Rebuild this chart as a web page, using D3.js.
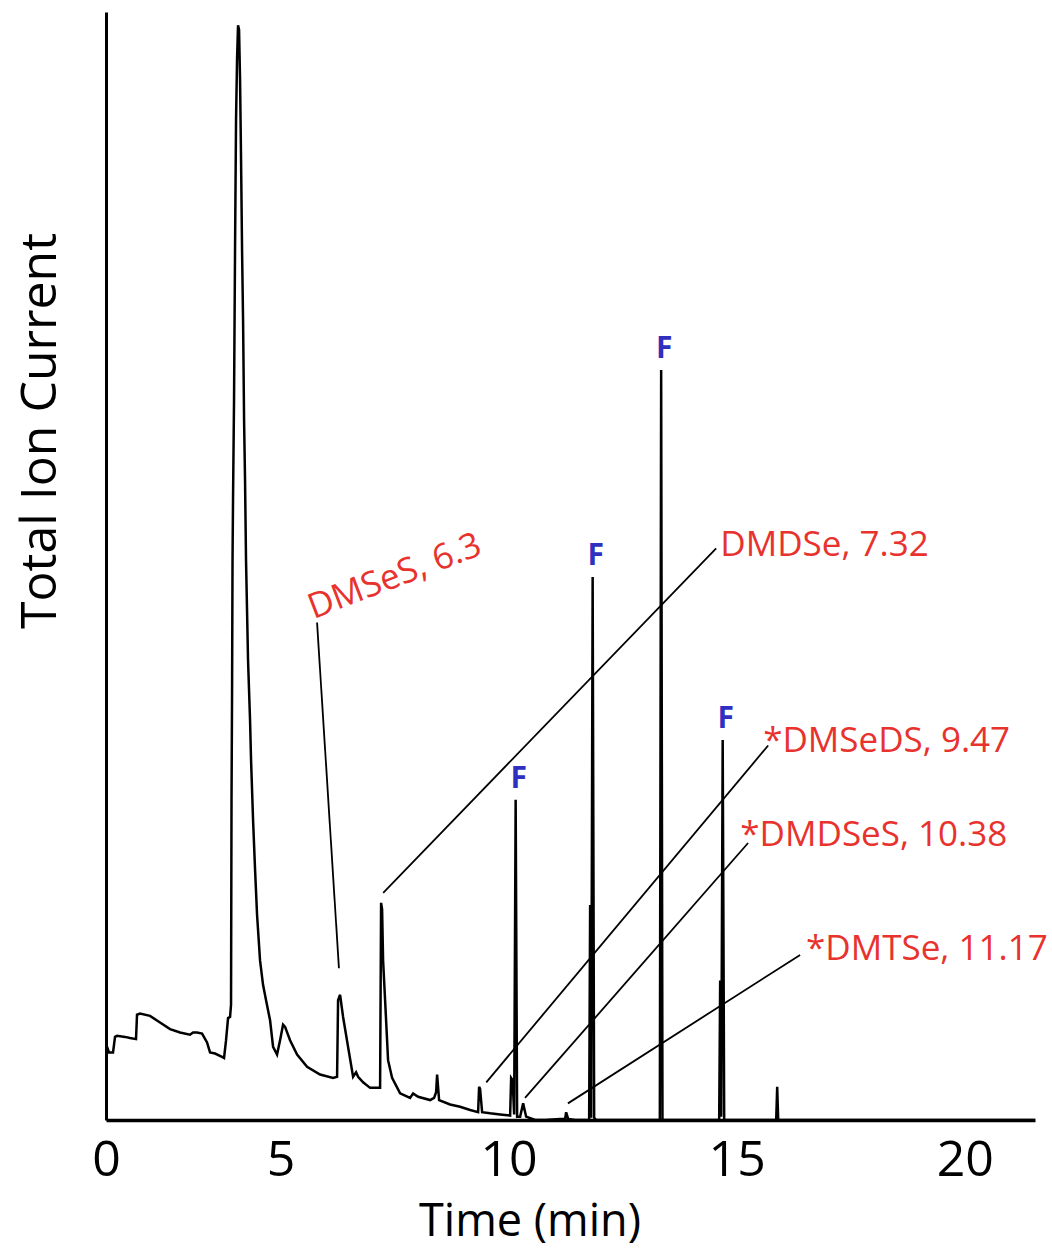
<!DOCTYPE html>
<html>
<head>
<meta charset="utf-8">
<script src="https://cdn.jsdelivr.net/npm/d3@7"></script>
<style>
  body { margin: 0; background: #fff; }
  svg { display: block; }
</style>
</head>
<body>
<div id="chart"></div>
<script>
// retention time (min) and total ion current (% of the full scale)
const traceTime = [1.173, 1.195, 1.239, 1.327, 1.371, 1.414, 1.590, 1.700, 1.831, 1.853, 1.919, 2.138, 2.357, 2.577, 2.796, 3.015, 3.081, 3.169, 3.279, 3.388, 3.454, 3.564, 3.717, 3.761, 3.805, 3.849, 3.893, 3.914, 3.925, 3.936, 3.947, 3.958, 3.980, 4.002, 4.024, 4.046, 4.068, 4.090, 4.112, 4.134, 4.156, 4.178, 4.200, 4.221, 4.243, 4.265, 4.287, 4.331, 4.353, 4.397, 4.441, 4.485, 4.550, 4.616, 4.682, 4.770, 4.836, 4.923, 4.989, 5.055, 5.099, 5.208, 5.362, 5.581, 5.866, 6.151, 6.239, 6.261, 6.305, 6.371, 6.480, 6.590, 6.656, 6.700, 6.809, 6.963, 7.182, 7.204, 7.226, 7.248, 7.292, 7.357, 7.445, 7.621, 7.840, 7.906, 8.015, 8.279, 8.366, 8.410, 8.432, 8.476, 8.717, 8.936, 9.156, 9.331, 9.353, 9.375, 9.419, 9.594, 9.814, 10.033, 10.055, 10.088, 10.121, 10.154, 10.186, 10.252, 10.318, 10.384, 10.581, 10.800, 11.129, 11.239, 11.261, 11.305, 11.458, 11.765, 11.787, 11.809, 11.842, 11.875, 11.919, 13.315, 13.344, 13.373, 14.616, 14.638, 14.660, 14.693, 14.726, 15.866, 15.888, 15.910, 21.54];
const traceCurrent = [6.6, 6.6, 6.1, 6.1, 7.5, 7.6, 7.5, 7.4, 7.3, 9.5, 9.6, 9.4, 8.8, 8.2, 7.9, 7.7, 7.9, 7.9, 7.8, 7.0, 6.1, 6.0, 5.7, 5.6, 7.2, 9.2, 9.3, 10.4, 28.9, 37.9, 50.5, 56.0, 65.0, 78.5, 90.3, 95.7, 98.8, 98.4, 93.9, 86.6, 78.5, 72.2, 63.2, 57.8, 50.5, 46.0, 41.5, 36.1, 32.5, 27.1, 22.6, 18.5, 14.4, 12.2, 10.8, 9.0, 6.6, 5.9, 7.2, 8.6, 8.4, 7.2, 5.9, 4.8, 4.1, 3.8, 3.9, 10.8, 11.3, 9.3, 6.6, 3.9, 4.3, 3.9, 3.4, 2.9, 2.9, 19.6, 19.0, 14.4, 10.8, 5.4, 3.8, 2.4, 2.0, 2.4, 2.1, 1.8, 2.0, 2.5, 4.1, 1.8, 1.4, 1.2, 0.9, 0.7, 3.0, 2.8, 0.7, 0.6, 0.5, 0.4, 3.8, 3.6, 0.5, 28.9, 0.3, 0.3, 1.5, 0.3, 0.0, 0.0, 0.1, 0.1, 0.7, 0.1, 0, 0, 19.4, 0.2, 49.0, 0.2, 0, 0, 67.7, 0, 0, 12.6, 0.3, 34.3, 0, 0, 3.0, 0, 0];

// x tick values and their labels (the first tick sits at the start of the run)
const tickValues = [1.173, 5, 10, 15, 20];
const tickLabels = ["0", "5", "10", "15", "20"];

// "F" peaks
const fTime = [10.154, 11.842, 13.344, 14.693];
const fCurrent = [28.9, 49.0, 67.7, 34.3];

// annotated compounds: label, peak point, leader end, label point (time, current)
const compoundNames = ["DMSeS, 6.3", "DMDSe, 7.32", "*DMSeDS, 9.47", "*DMDSeS, 10.38", "*DMTSe, 11.17"];
const peakTime = [6.28, 7.25, 9.51, 10.36, 11.30];
const peakCurrent = [13.7, 20.5, 3.4, 2.0, 1.5];
const leaderTime = [5.80, 14.55, 15.69, 15.25, 16.39];
const leaderCurrent = [44.9, 51.6, 33.8, 25.0, 14.9];
const labelTime = [5.72, 14.64, 15.58, 15.08, 16.52];
const labelCurrent = [45.2, 50.9, 33.2, 24.7, 14.4];
const labelAngle = [-21, 0, 0, 0, 0];

const W = 1052, H = 1253;
const x0 = 106, x1 = 1035, yBase = 1120, yTop = 12;
const red = "#e8322e", blue = "#3030c0";

const svg = d3.select("#chart").append("svg")
    .attr("width", W)
    .attr("height", H);

const xScale = d3.scaleLinear().domain([tickValues[0], 21.54]).range([x0, x1]);
const yScale = d3.scaleLinear().domain([0, 100]).range([yBase, yTop]);

// trace
const data = traceTime.map((t, i) => ({t: t, v: traceCurrent[i]}));
svg.append("path")
    .datum(data)
    .attr("fill", "none")
    .attr("stroke", "#000")
    .attr("stroke-width", 2.5)
    .attr("stroke-linejoin", "miter")
    .attr("d", d3.line().x(d => xScale(d.t)).y(d => yScale(d.v)));

// axes
const xAxis = svg.append("g")
    .attr("transform", "translate(0," + yBase + ")")
    .call(d3.axisBottom(xScale)
        .tickValues(tickValues)
        .tickFormat((d, i) => tickLabels[i])
        .tickSize(0)
        .tickPadding(20));
xAxis.select(".domain").attr("stroke-width", 3.5);
xAxis.selectAll("text")
    .attr("font-family", "'Open Sans', sans-serif")
    .attr("font-size", 50)
    .attr("fill", "#000");

const yAxis = svg.append("g")
    .attr("transform", "translate(" + x0 + ",0)")
    .call(d3.axisLeft(yScale).tickValues([]).tickSize(0));
yAxis.select(".domain").attr("stroke-width", 3);

svg.append("text")
    .attr("x", 530)
    .attr("y", 1236)
    .attr("text-anchor", "middle")
    .attr("font-family", "'Open Sans', sans-serif")
    .attr("font-size", 45)
    .text("Time (min)");

svg.append("text")
    .attr("transform", "translate(56,431) rotate(-90)")
    .attr("text-anchor", "middle")
    .attr("font-family", "'Open Sans', sans-serif")
    .attr("font-size", 50)
    .text("Total Ion Current");

// F markers
svg.selectAll("text.fLabel")
    .data(fTime)
    .join("text")
    .attr("class", "fLabel")
    .attr("x", (d, i) => xScale(d) + 3)
    .attr("y", (d, i) => yScale(fCurrent[i]) - 12)
    .attr("text-anchor", "middle")
    .attr("font-family", "'Open Sans', sans-serif")
    .attr("font-weight", "bold")
    .attr("font-size", 30)
    .attr("fill", blue)
    .text("F");

// compound leader lines and labels
svg.selectAll("line.leader")
    .data(compoundNames)
    .join("line")
    .attr("class", "leader")
    .attr("x1", (d, i) => xScale(peakTime[i]))
    .attr("y1", (d, i) => yScale(peakCurrent[i]))
    .attr("x2", (d, i) => xScale(leaderTime[i]))
    .attr("y2", (d, i) => yScale(leaderCurrent[i]))
    .attr("stroke", "#000")
    .attr("stroke-width", 1.8);

svg.selectAll("text.compound")
    .data(compoundNames)
    .join("text")
    .attr("class", "compound")
    .attr("transform", (d, i) => "translate(" + xScale(labelTime[i]) + "," + yScale(labelCurrent[i]) + ") rotate(" + labelAngle[i] + ")")
    .attr("font-family", "'Open Sans', sans-serif")
    .attr("font-size", 35)
    .attr("fill", red)
    .text(d => d);
</script>
</body>
</html>
